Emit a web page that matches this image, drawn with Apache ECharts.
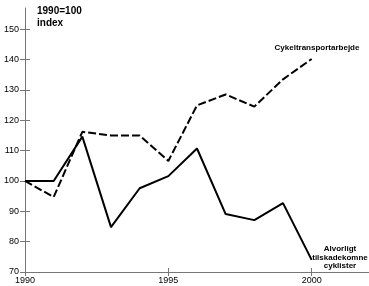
<!DOCTYPE html>
<html><head><meta charset="utf-8">
<script src="https://cdn.jsdelivr.net/npm/echarts@6/dist/echarts.min.js"></script>
<style>html,body{margin:0;padding:0;background:#fff}#c{width:369px;height:286px}</style>
</head><body><div id="c"></div>
<script>
var years = [1990,1991,1992,1993,1994,1995,1996,1997,1998,1999,2000];
var transport = [100,94.7,116.2,115,115,106.6,124.9,128.5,124.5,133.5,140.2];
var injured = [100,100,114.6,84.8,97.6,101.6,110.7,89.1,87.1,92.7,74];
var xTicks = [1990,1995,2000];
var yTicks = [70,80,90,100,110,120,130,140,150];
var transportName = 'Cykeltransportarbejde';
var injuredName = 'Alvorligt\ntilskadekomne\ncyklister';
var titleText = '1990=100\nindex';

function pairs(v){ return years.map(function(y,i){ return [y, v[i]]; }); }

var chart = echarts.init(document.getElementById('c'), null, {renderer:'canvas'});
var font = 'Liberation Sans, Arial, sans-serif';
var axisCol = '#777';
function xAx(inside, main){
  return {type:'value', min:1990, max:2002, position:'bottom',
    axisLine:{show:main, onZero:false, lineStyle:{color:axisCol, width:1}},
    axisTick:{show:true, inside:inside, length:4, customValues:xTicks, lineStyle:{color:axisCol}},
    axisLabel:{show:main, customValues:xTicks, color:'#000', fontSize:9, fontFamily:font, margin:4,
      formatter:function(v){return String(v);}},
    splitLine:{show:false}};
}
function yAx(inside, main){
  return {type:'value', min:70, max:157, position:'left',
    axisLine:{show:main, onZero:false, lineStyle:{color:axisCol, width:1}},
    axisTick:{show:true, inside:inside, length:5, customValues:yTicks, lineStyle:{color:axisCol}},
    axisLabel:{show:main, customValues:yTicks, color:'#000', fontSize:9, fontFamily:font, margin:6},
    splitLine:{show:false}};
}
chart.setOption({
  animation:false,
  grid:{left:25, right:0, top:8, bottom:14},
  xAxis:[xAx(false,true), xAx(true,false)],
  yAxis:[yAx(false,true), yAx(true,false)],
  series:[
    {name:transportName, type:'line', data:pairs(transport), symbol:'none',
     lineStyle:{color:'#000', width:2, type:[8,3]}},
    {name:injuredName, type:'line', data:pairs(injured), symbol:'none',
     lineStyle:{color:'#000', width:2}}
  ],
  graphic:[
    {type:'text', x:37, y:5, style:{text:titleText, font:'bold 10px '+font, fill:'#000', lineHeight:12}},
    {type:'text', x:317, y:44, style:{text:transportName, font:'bold 8px '+font, fill:'#000', align:'center', verticalAlign:'top'}},
    {type:'text', x:340, y:245, style:{text:injuredName, font:'bold 8px '+font, fill:'#000', align:'center', verticalAlign:'top', lineHeight:8.5}}
  ]
});
</script></body></html>
